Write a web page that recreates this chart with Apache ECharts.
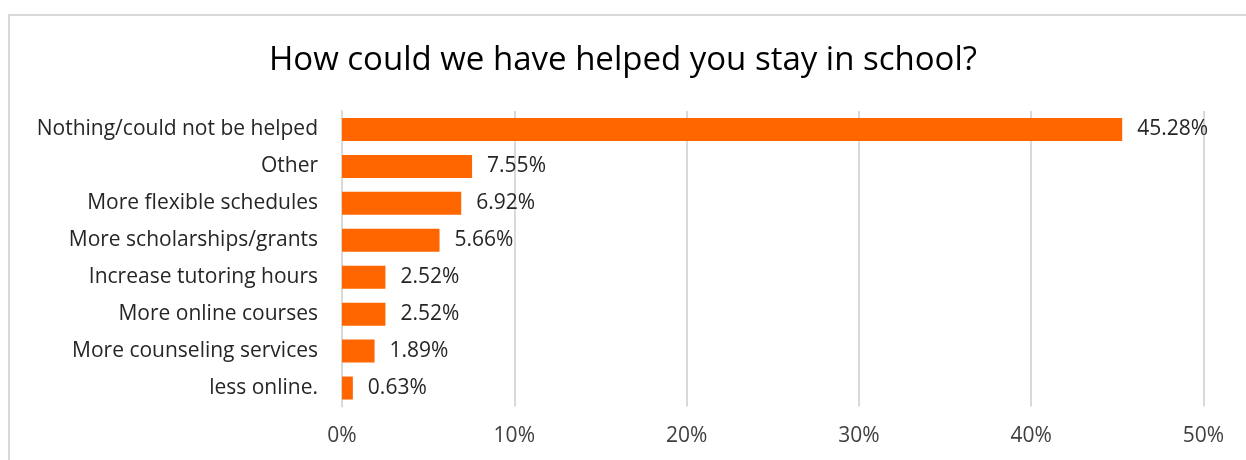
<!DOCTYPE html>
<html>
<head>
<meta charset="utf-8">
<script src="https://cdn.jsdelivr.net/npm/echarts@6/dist/echarts.min.js"></script>
<style>
html,body{margin:0;padding:0;background:#fff;}
#chart{width:1246px;height:460px;}
</style>
</head>
<body>
<div id="chart"></div>
<script>
const titleText = 'How could we have helped you stay in school?';
const categories = [
  'Nothing/could not be helped',
  'Other',
  'More flexible schedules',
  'More scholarships/grants',
  'Increase tutoring hours',
  'More online courses',
  'More counseling services',
  'less online.'
];
const values = [45.28, 7.55, 6.92, 5.66, 2.52, 2.52, 1.89, 0.63];
const xTicks = [0, 10, 20, 30, 40, 50];

const font = '"Open Sans", "Liberation Sans", sans-serif';
const chart = echarts.init(document.getElementById('chart'), null, {renderer: 'canvas'});
chart.setOption({
  animation: false,
  backgroundColor: '#ffffff',
  graphic: [{
    type: 'rect', silent: true,
    shape: {x: 9, y: 15, width: 1400, height: 600},
    style: {fill: 'none', stroke: '#d9d9d9', lineWidth: 2}
  }],
  title: {
    text: titleText,
    left: 'center',
    top: 39,
    textStyle: {fontFamily: font, fontSize: 33, fontWeight: 'normal', color: '#000000'}
  },
  grid: {left: 342, right: 1246 - 1203.5, top: 111, bottom: 460 - 406.5, containLabel: false},
  xAxis: {
    type: 'value',
    min: xTicks[0], max: xTicks[xTicks.length - 1], interval: 10,
    axisLine: {show: false},
    axisTick: {show: false},
    splitLine: {show: true, lineStyle: {color: '#d9d9d9', width: 2}},
    axisLabel: {
      formatter: v => v + '%',
      fontFamily: font, fontSize: 21, color: '#404040', margin: 19
    }
  },
  yAxis: {
    type: 'category',
    data: categories,
    inverse: true,
    axisLine: {show: true, lineStyle: {color: '#d9d9d9', width: 2}},
    axisTick: {show: false},
    axisLabel: {fontFamily: font, fontSize: 21, color: '#262626', margin: 24}
  },
  series: [{
    type: 'bar',
    data: values,
    barWidth: 23,
    itemStyle: {color: '#ff6600'},
    label: {
      show: true,
      position: 'right',
      distance: 15,
      formatter: p => p.value.toFixed(2) + '%',
      fontFamily: font, fontSize: 21, color: '#262626'
    }
  }]
});
</script>
</body>
</html>
